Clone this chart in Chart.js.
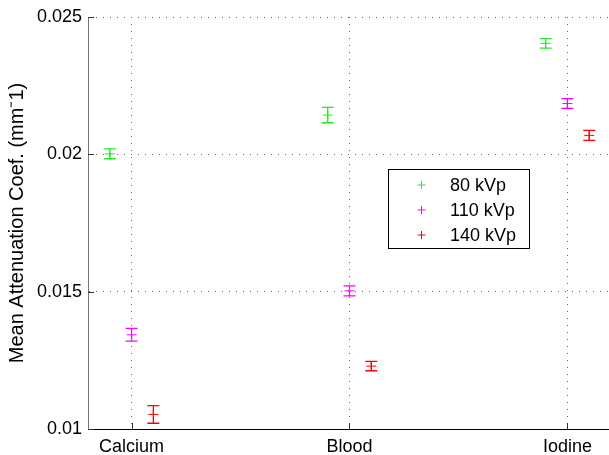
<!DOCTYPE html>
<html>
<head>
<meta charset="utf-8">
<script src="https://cdn.jsdelivr.net/npm/chart.js@4.4.1/dist/chart.umd.min.js"></script>
<style>
  html, body { margin: 0; padding: 0; background: #fff; overflow: hidden; }
  #wrap { width: 609px; height: 455px; overflow: hidden; position: relative; }
  #box { width: 620px; height: 455px; position: absolute; left: 0; top: 0; }
</style>
</head>
<body>
<div id="wrap"><div id="box"><canvas id="chart"></canvas></div></div>
<script>
// Data
const categories = ["Calcium", "Blood", "Iodine"];
const seriesNames = ["80 kVp", "110 kVp", "140 kVp"];
const kvp80 = [0.02002, 0.02143, 0.02404];
const kvp80Err = [0.00018, 0.00028, 0.00017];
const kvp110 = [0.01343, 0.01503, 0.02185];
const kvp110Err = [0.00023, 0.00018, 0.00018];
const kvp140 = [0.01053, 0.01229, 0.02069];
const kvp140Err = [0.00032, 0.00017, 0.00018];
const yTicks = [0.01, 0.015, 0.02, 0.025];

const FONT = "'Liberation Sans', Arial, Helvetica, sans-serif";
const colors = ["#1fee1f", "#ff00ff", "#ff0000"];
const offsets = [-0.1, 0, 0.1];
const values = [kvp80, kvp110, kvp140];
const errors = [kvp80Err, kvp110Err, kvp140Err];

const datasets = values.map((vals, s) => ({
  label: seriesNames[s],
  data: vals.map((v, i) => ({ x: i + 1 + offsets[s], y: v })),
  errors: errors[s],
  borderColor: colors[s],
  backgroundColor: colors[s],
  pointStyle: "cross",
  pointRadius: 5,
  pointHoverRadius: 5,
  pointBorderWidth: 1,
  showLine: false,
}));

// error bars drawn through the y scale
const errorBars = {
  id: "errorBars",
  afterDatasetsDraw(chart) {
    const ctx = chart.ctx;
    const y = chart.scales.y;
    chart.data.datasets.forEach((ds, di) => {
      const meta = chart.getDatasetMeta(di);
      ctx.save();
      ctx.strokeStyle = ds.borderColor;
      ctx.lineWidth = 1.3;
      meta.data.forEach((pt, i) => {
        const v = ds.data[i].y;
        const e = ds.errors[i];
        const top = y.getPixelForValue(v + e);
        const bot = y.getPixelForValue(v - e);
        const cap = 6;
        ctx.beginPath();
        ctx.moveTo(pt.x, top);
        ctx.lineTo(pt.x, bot);
        ctx.moveTo(pt.x - cap, top);
        ctx.lineTo(pt.x + cap, top);
        ctx.moveTo(pt.x - cap, bot);
        ctx.lineTo(pt.x + cap, bot);
        ctx.stroke();
      });
      ctx.restore();
    });
  },
};

// short inward tick marks, matlab style
const innerTicks = {
  id: "innerTicks",
  afterDraw(chart) {
    const ctx = chart.ctx;
    const { x, y } = chart.scales;
    const a = chart.chartArea;
    ctx.save();
    ctx.strokeStyle = "#333";
    ctx.lineWidth = 1;
    ctx.beginPath();
    y.ticks.forEach((t) => {
      const py = Math.round(y.getPixelForValue(t.value)) + 0.5;
      ctx.moveTo(a.left, py);
      ctx.lineTo(a.left + 6, py);
    });
    x.ticks.forEach((t) => {
      const px = Math.round(x.getPixelForValue(t.value)) + 0.5;
      ctx.moveTo(px, a.bottom);
      ctx.lineTo(px, a.bottom - 6);
    });
    ctx.stroke();
    ctx.restore();
  },
};

// boxed legend inside the plot
const boxLegend = {
  id: "boxLegend",
  afterDraw(chart) {
    const ctx = chart.ctx;
    const x0 = 388, y0 = 169, w = 141, h = 79;
    ctx.save();
    ctx.fillStyle = "#fff";
    ctx.fillRect(x0, y0, w, h);
    ctx.strokeStyle = "#000";
    ctx.lineWidth = 1;
    ctx.strokeRect(x0 + 0.5, y0 + 0.5, w, h);
    ctx.font = "18px " + FONT;
    ctx.textBaseline = "middle";
    chart.data.datasets.forEach((ds, i) => {
      const cy = y0 + 16 + i * 25;
      const mx = 421.5;
      ctx.strokeStyle = ds.borderColor;
      ctx.beginPath();
      ctx.moveTo(mx - 4, cy);
      ctx.lineTo(mx + 4, cy);
      ctx.moveTo(mx, cy - 4);
      ctx.lineTo(mx, cy + 4);
      ctx.stroke();
      ctx.fillStyle = "#000";
      ctx.fillText(ds.label, 450, cy + 1);
    });
    ctx.restore();
  },
};

new Chart(document.getElementById("chart"), {
  type: "scatter",
  data: { datasets },
  plugins: [errorBars, innerTicks, boxLegend],
  options: {
    responsive: true,
    maintainAspectRatio: false,
    animation: false,
    layout: { padding: { top: 17, right: 9, bottom: 0, left: 0 } },
    plugins: { legend: { display: false }, tooltip: { enabled: false } },
    scales: {
      x: {
        type: "linear",
        min: 0.8,
        max: 3.2,
        afterBuildTicks: (axis) => {
          axis.ticks = categories.map((c, i) => ({ value: i + 1 }));
        },
        afterFit: (axis) => { axis.height = 26; },
        ticks: {
          padding: 7,
          color: "#000",
          font: { family: FONT, size: 18 },
          maxRotation: 0,
          callback: (v) => categories[Math.round(v) - 1],
        },
        grid: { color: "#666", lineWidth: 1, drawTicks: false },
        border: { color: "#000", width: 1, dash: [1, 6] },
      },
      y: {
        min: 0.01,
        max: 0.025,
        afterBuildTicks: (axis) => {
          axis.ticks = yTicks.map((v) => ({ value: v }));
        },
        afterFit: (axis) => { axis.width = 88; },
        ticks: {
          padding: 6,
          color: "#000",
          font: { family: FONT, size: 18 },
          callback: (v) => String(+v.toFixed(3)),
        },
        grid: { color: "#666", lineWidth: 1, drawTicks: false },
        border: { color: "#777", width: 1, dash: [1, 6] },
        title: {
          display: true,
          text: "Mean Attenuation Coef. (mm\u207B1)",
          color: "#000",
          font: { family: FONT, size: 20 },
          padding: { top: 5, bottom: 0 },
        },
      },
    },
  },
});
</script>
</body>
</html>
